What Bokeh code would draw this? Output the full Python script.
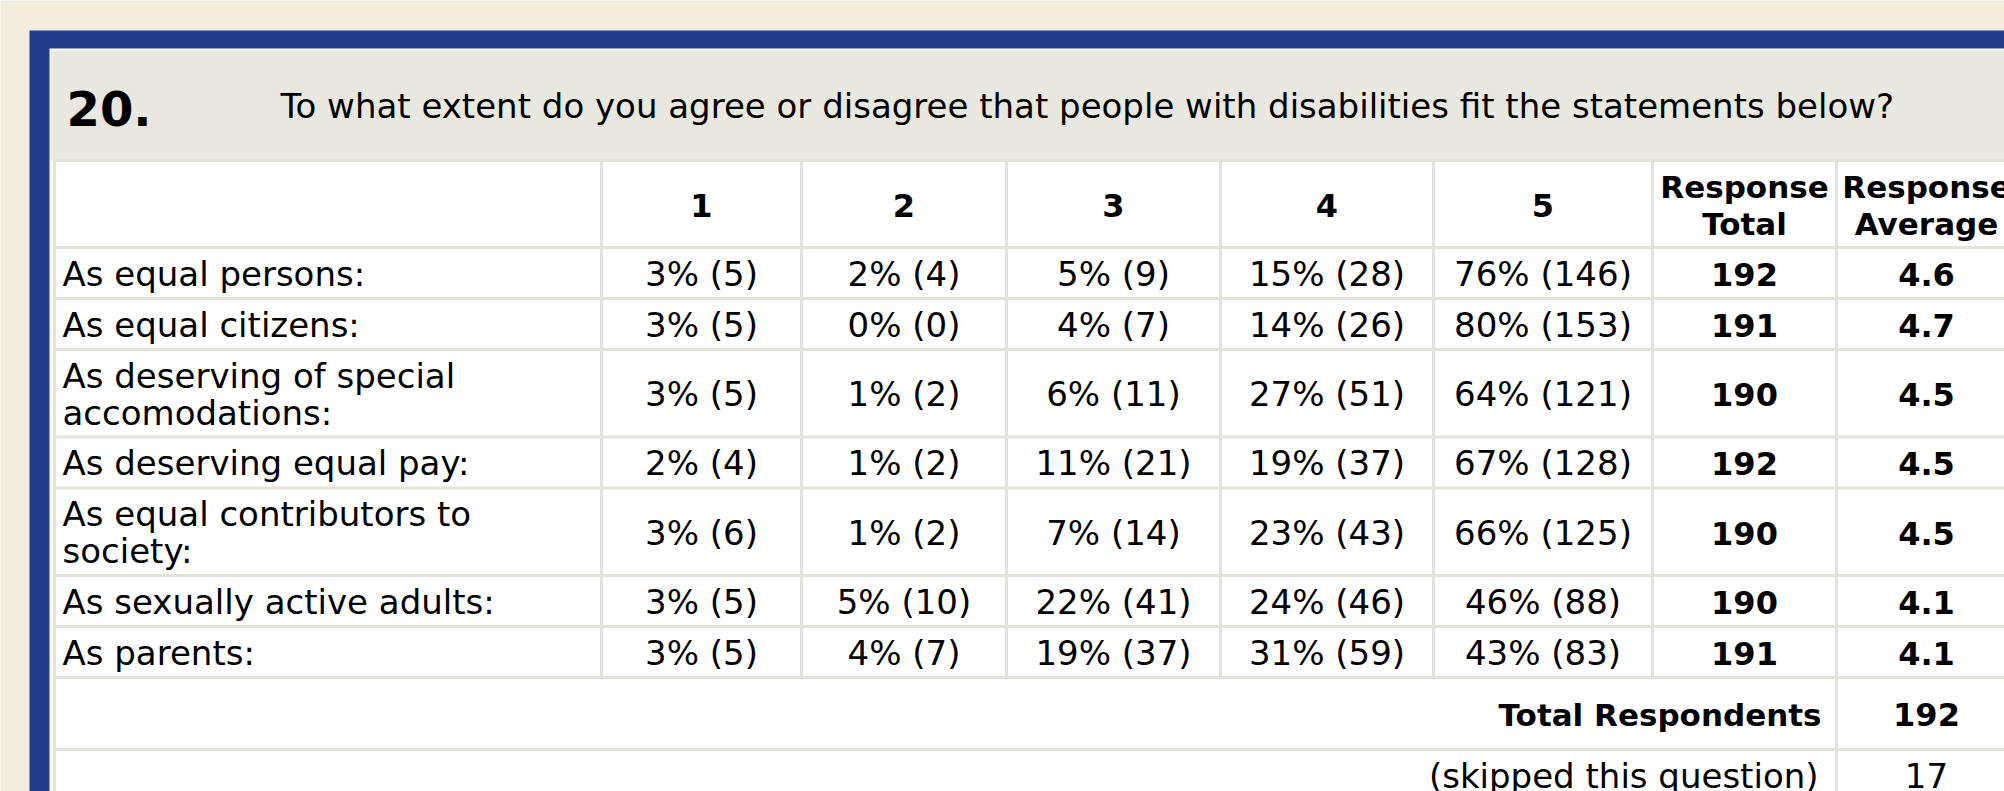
import textwrap
from bokeh.plotting import figure
from bokeh.models import Range1d
from bokeh.embed import file_html
from bokeh.resources import INLINE
from bokeh.core.properties import value

# ---------------- data ----------------
question_number = "20."
question = "To what extent do you agree or disagree that people with disabilities fit the statements below?"
scale_labels = ["1", "2", "3", "4", "5"]
total_header = ["Response", "Total"]
avg_header = ["Response", "Average"]
statements = [
    "As equal persons:",
    "As equal citizens:",
    "As deserving of special accomodations:",
    "As deserving equal pay:",
    "As equal contributors to society:",
    "As sexually active adults:",
    "As parents:",
]
pct_1 = [3, 3, 3, 2, 3, 3, 3]
cnt_1 = [5, 5, 5, 4, 6, 5, 5]
pct_2 = [2, 0, 1, 1, 1, 5, 4]
cnt_2 = [4, 0, 2, 2, 2, 10, 7]
pct_3 = [5, 4, 6, 11, 7, 22, 19]
cnt_3 = [9, 7, 11, 21, 14, 41, 37]
pct_4 = [15, 14, 27, 19, 23, 24, 31]
cnt_4 = [28, 26, 51, 37, 43, 46, 59]
pct_5 = [76, 80, 64, 67, 66, 46, 43]
cnt_5 = [146, 153, 121, 128, 125, 88, 83]
response_total = [192, 191, 190, 192, 190, 190, 191]
response_average = [4.6, 4.7, 4.5, 4.5, 4.5, 4.1, 4.1]
summary_labels = ["Total Respondents", "(skipped this question)"]
summary_values = [192, 17]

# ---------------- layout ----------------
W, H = 2004, 791
FONT = "DejaVu Sans"
REG = 34
BOLD_HEAD = 31
BOLD_NUM = 32
TITLE = 48
CREAM = "#F3EDDE"
BLUE = "#233F8C"
HEAD_GREY = "#E8E8E1"
LINE = "#E3E3DB"
INK = "#000000"
BASE_FIX = 0.36    # renderer baseline correction (fraction of font size)

col_edges = [54, 601, 801, 1006, 1220, 1433, 1652, 1836, 2016]
table_top, header_bottom = 160, 247
single_h, double_h = 51, 87.5
summary_h = [72, 51]
base_off = 13      # baseline offset from cell centre
line_gap = 37      # line spacing for wrapped labels

p = figure(width=W, height=H, x_range=Range1d(0, W), y_range=Range1d(H, 0),
           output_backend="svg", toolbar_location=None, min_border=0,
           x_axis_location=None, y_axis_location=None,
           background_fill_color=CREAM, border_fill_color=CREAM, outline_line_color=None)
p.grid.visible = False

# frame and panels
p.quad(left=[29], right=[W], top=[30], bottom=[H], fill_color=BLUE, line_color=None)
p.quad(left=[49], right=[W], top=[48], bottom=[H], fill_color="white", line_color=None)
p.quad(left=[50], right=[W], top=[50], bottom=[table_top], fill_color=HEAD_GREY, line_color=None)

# row geometry from data
wrapped = [textwrap.wrap(s, 26) for s in statements]
row_edges = [header_bottom]
for lines in wrapped:
    row_edges.append(row_edges[-1] + (double_h if len(lines) > 1 else single_h))
data_bottom = row_edges[-1]
sum_edges = [data_bottom]
for h in summary_h:
    sum_edges.append(sum_edges[-1] + h)

# grid lines
hy = [table_top] + row_edges + sum_edges[1:]
p.segment(x0=[col_edges[0]] * len(hy), x1=[W] * len(hy), y0=hy, y1=hy,
          line_color=LINE, line_width=3)
vx = col_edges[:-1]
p.segment(x0=vx, x1=vx, y0=[table_top] * len(vx), y1=[data_bottom] * len(vx),
          line_color=LINE, line_width=3)
p.segment(x0=[col_edges[0], col_edges[7]], x1=[col_edges[0], col_edges[7]],
          y0=[data_bottom] * 2, y1=[H] * 2, line_color=LINE, line_width=3)


def add_text(xs, baselines, texts, size, bold=False, align="center"):
    ys = [b - BASE_FIX * size for b in baselines]
    p.text(x=xs, y=ys, text=texts, text_font=value(FONT), text_font_size=f"{size}px",
           text_font_style="bold" if bold else "normal", text_align=align,
           text_baseline="alphabetic", text_color=INK)


# title
add_text([66], [125], [question_number], TITLE, bold=True, align="left")
add_text([280], [118], [question], REG, align="left")

# header row
hc = (table_top + header_bottom) / 2
centers = [(col_edges[i] + col_edges[i + 1]) / 2 for i in range(len(col_edges) - 1)]
add_text(centers[1:6], [hc + base_off] * 5, scale_labels, BOLD_NUM, bold=True)
add_text([centers[6], centers[6]], [hc + base_off - line_gap / 2, hc + base_off + line_gap / 2],
         total_header, BOLD_HEAD, bold=True)
add_text([centers[7], centers[7]], [hc + base_off - line_gap / 2, hc + base_off + line_gap / 2],
         avg_header, BOLD_HEAD, bold=True)

# body rows
pcts = [pct_1, pct_2, pct_3, pct_4, pct_5]
cnts = [cnt_1, cnt_2, cnt_3, cnt_4, cnt_5]
lx, ly, lt = [], [], []
vx_, vy_, vt_ = [], [], []
bx, by, bt = [], [], []
for r, lines in enumerate(wrapped):
    c = (row_edges[r] + row_edges[r + 1]) / 2
    n = len(lines)
    for k, ln in enumerate(lines):
        lx.append(col_edges[0] + 8)
        ly.append(c + base_off + (k - (n - 1) / 2) * line_gap)
        lt.append(ln)
    for j in range(5):
        vx_.append(centers[j + 1])
        vy_.append(c + base_off)
        vt_.append(f"{pcts[j][r]}% ({cnts[j][r]})")
    bx += [centers[6], centers[7]]
    by += [c + base_off, c + base_off]
    bt += [str(response_total[r]), f"{response_average[r]:.1f}"]
add_text(lx, ly, lt, REG, align="left")
add_text(vx_, vy_, vt_, REG)
add_text(bx, by, bt, BOLD_NUM, bold=True)

# summary rows
sc = [(sum_edges[i] + sum_edges[i + 1]) / 2 for i in range(2)]
add_text([col_edges[7] - 15], [sc[0] + base_off], [summary_labels[0]], BOLD_HEAD, bold=True, align="right")
add_text([col_edges[7] - 18], [sc[1] + base_off], [summary_labels[1]], REG, align="right")
add_text([centers[7]], [sc[0] + base_off], [str(summary_values[0])], BOLD_NUM, bold=True)
add_text([centers[7]], [sc[1] + base_off], [str(summary_values[1])], REG)

open("out.html", "w").write(file_html(p, INLINE))
